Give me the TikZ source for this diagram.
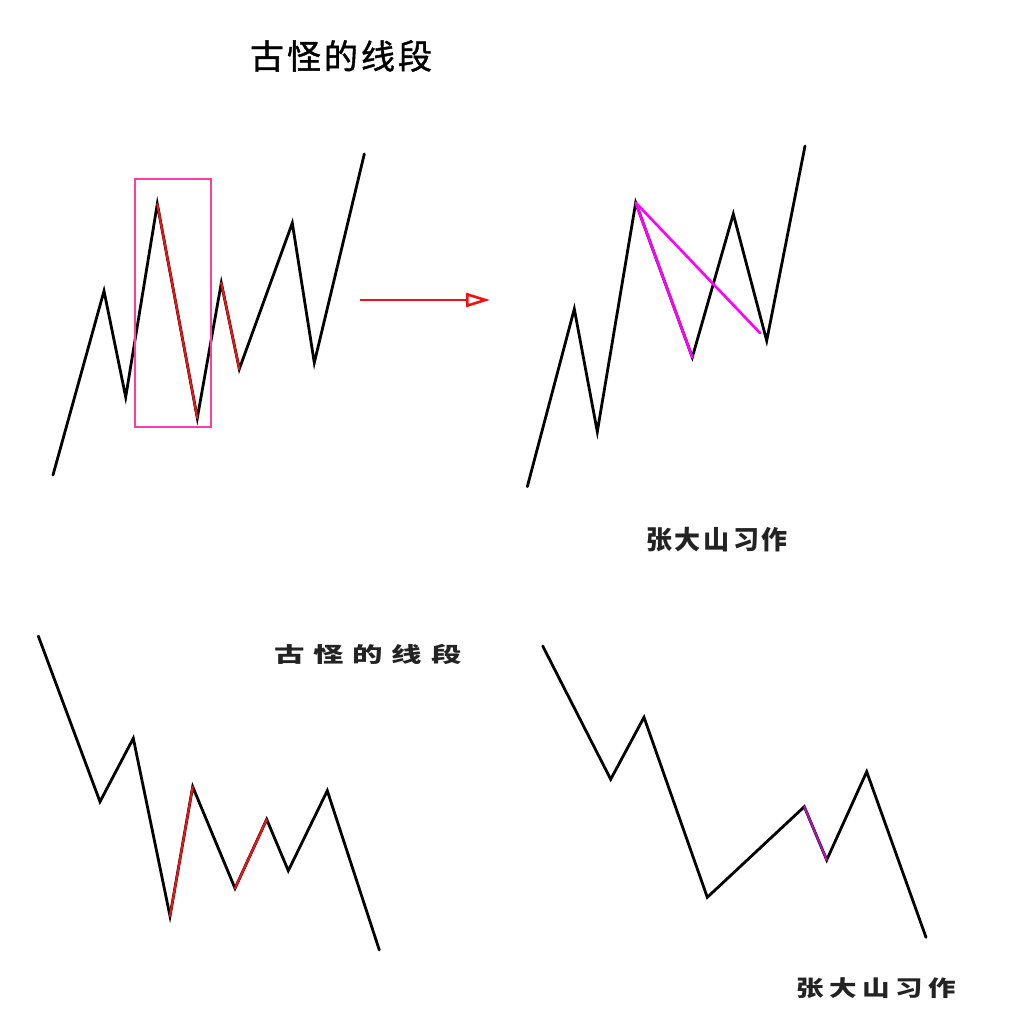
\documentclass[tikz,border=0pt]{standalone}
\usepackage{fontspec}
\newfontfamily\cjk{Noto Sans CJK SC}
\newfontfamily\cjkmed[FakeBold=1.2]{Noto Sans CJK SC}
\usetikzlibrary{arrows.meta}
\definecolor{boxpink}{RGB}{255,60,160}
\definecolor{segred}{RGB}{235,20,20}
\definecolor{magline}{RGB}{255,0,255}
\definecolor{darkmag}{RGB}{170,20,170}
\definecolor{textgrey}{RGB}{35,35,35}
\tikzset{
  chart/.style={line width=2.8pt, black, line join=miter, line cap=round},
  redseg/.style={line width=2.2pt, segred, line cap=round},
  magseg/.style={line width=2.6pt, magline, line cap=round},
  dmagseg/.style={line width=2.2pt, darkmag, line cap=round},
  titletext/.style={font=\cjkmed\fontsize{34}{36}\selectfont, inner sep=0pt},
  authortext/.style={font=\cjk\bfseries\fontsize{26}{28}\selectfont, inner sep=0pt, text=textgrey}
}
\begin{document}
\begin{tikzpicture}[x=1pt,y=-1pt]
\useasboundingbox[fill=white] (0,0) rectangle (1017,1029);

% ---------- top title
\node[titletext] (t1) at (341,56) {古\hspace{3pt}怪\hspace{3pt}的\hspace{3pt}线\hspace{3pt}段};

% ---------- top-left chart
\coordinate (a1) at (53,475);
\coordinate (a2) at (104,291);
\coordinate (a3) at (125.7,397);
\coordinate (a4) at (157.3,204);
\coordinate (a5) at (197.3,418);
\coordinate (a6) at (221.3,283);
\coordinate (a7) at (239.3,369);
\coordinate (a8) at (292.3,223);
\coordinate (a9) at (314.3,362.7);
\coordinate (a10) at (364.3,154);
\draw[chart] (a1)--(a2)--(a3)--(a4)--(a5)--(a6)--(a7)--(a8)--(a9)--(a10);
\draw[redseg] (a4)--(a5);
\draw[redseg] (a6)--(a7);
\draw[boxpink, line width=2.4pt] (135,179) rectangle (210.7,427);

% ---------- arrow
\coordinate (arrA) at (360,300);
\coordinate (arrB) at (490,300);
\draw[segred, line width=2.6pt, -{Triangle[open, length=24pt, width=14pt, fill=white]}] (arrA)--(arrB);

% ---------- top-right chart
\coordinate (b1) at (527.3,486.7);
\coordinate (b2) at (574.3,309);
\coordinate (b3) at (597.3,431.7);
\coordinate (b4) at (635.7,202.7);
\coordinate (b5) at (692.3,357.3);
\coordinate (b6) at (733.3,214);
\coordinate (b7) at (766.7,340.7);
\coordinate (b8) at (805,146);
\coordinate (bm) at (760,333);
\draw[chart] (b1)--(b2)--(b3)--(b4)--(b5)--(b6)--(b7)--(b8);
\draw[magseg] (b4)--(b5);
\draw[magseg] (b4)--(bm);

\node[authortext] (au1) at (717,540) {张\hspace{3pt}大\hspace{3pt}山\hspace{3pt}习\hspace{3pt}作};

% ---------- bottom-left chart
\coordinate (c1) at (38.3,636);
\coordinate (c2) at (100,801.7);
\coordinate (c3) at (133.3,738.3);
\coordinate (c4) at (170,916);
\coordinate (c5) at (192.7,786.7);
\coordinate (c6) at (235,888.3);
\coordinate (c7) at (266.7,819.3);
\coordinate (c8) at (288.3,870.7);
\coordinate (c9) at (327.3,790.7);
\coordinate (c10) at (379.3,950);
\draw[chart] (c1)--(c2)--(c3)--(c4)--(c5)--(c6)--(c7)--(c8)--(c9)--(c10);
\draw[redseg] (c4)--(c5);
\draw[redseg] (c6)--(c7);

\node[inner sep=0pt, xscale=1.45, text=textgrey, font=\cjk\bfseries\fontsize{21}{23}\selectfont] (t2) at (368,654)
  {古\hspace{6pt}怪\hspace{6pt}的\hspace{6pt}线\hspace{6pt}段};

% ---------- bottom-right chart
\coordinate (d1) at (542.7,646);
\coordinate (d2) at (610.7,779.3);
\coordinate (d3) at (644,717.3);
\coordinate (d4) at (707.3,897.3);
\coordinate (d5) at (804.3,806.7);
\coordinate (d6) at (826.7,860);
\coordinate (d7) at (866.7,771.7);
\coordinate (d8) at (926,937.3);
\draw[chart] (d1)--(d2)--(d3)--(d4)--(d5)--(d6)--(d7)--(d8);
\draw[dmagseg] (d5)--(d6);

\node[inner sep=0pt, xscale=1.25, text=textgrey, font=\cjk\bfseries\fontsize{22}{24}\selectfont] (au2) at (876,988)
  {张\hspace{4.5pt}大\hspace{4.5pt}山\hspace{4.5pt}习\hspace{4.5pt}作};
\end{tikzpicture}
\end{document}
